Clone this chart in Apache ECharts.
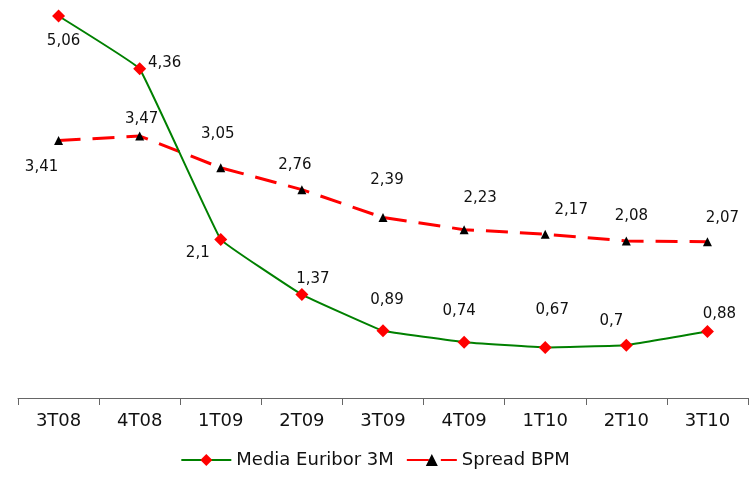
<!DOCTYPE html>
<html><head><meta charset="utf-8">
<script src="https://cdn.jsdelivr.net/npm/echarts@6/dist/echarts.min.js"></script>
<style>html,body{margin:0;padding:0;background:#fff}#c{width:750px;height:480px}</style>
</head><body><div id="c"></div>
<script>
const categories = ['3T08','4T08','1T09','2T09','3T09','4T09','1T10','2T10','3T10'];
const euribor = [5.06, 4.36, 2.1, 1.37, 0.89, 0.74, 0.67, 0.7, 0.88];
const spread = [3.41, 3.47, 3.05, 2.76, 2.39, 2.23, 2.17, 2.08, 2.07];
const seriesNames = ['Media Euribor 3M', 'Spread BPM'];
// label offsets (pixels) relative to each marker, separate from the data
const euriborLabelOffsets = [[5,25],[25,-6],[-23,14],[11,-15],[4,-31],[-5,-31],[7,-37],[-15,-24],[12,-17]];
const spreadLabelOffsets = [[-17,27],[2,-17],[-3,-34],[-7,-25],[4,-37],[16,-32],[26,-24],[5,-25],[15,-24]];

const fmt = v => String(v).replace('.', ',');
const font = 'DejaVu Sans, Verdana, sans-serif';

function withLabels(values, offsets) {
  return values.map((v, i) => ({ value: v, label: { offset: offsets[i] } }));
}

const chart = echarts.init(document.getElementById('c'), null, { renderer: 'canvas' });
chart.setOption({
  animation: false,
  backgroundColor: '#ffffff',
  textStyle: { fontFamily: font },
  grid: { left: 18, right: 2, top: 16, bottom: 82, containLabel: false },
  xAxis: {
    type: 'category',
    data: categories,
    boundaryGap: true,
    axisLine: { show: true, lineStyle: { color: '#666666', width: 1 } },
    axisTick: { show: true, length: 7, lineStyle: { color: '#666666' } },
    axisLabel: { color: '#111111', fontSize: 18, fontFamily: font, margin: 14 },
    splitLine: { show: false }
  },
  yAxis: {
    type: 'value', min: 0, max: 5.06,
    show: false,
    splitLine: { show: false }
  },
  legend: {
    bottom: 6, left: 'center',
    itemWidth: 50, itemHeight: 15, itemGap: 12,
    textStyle: { color: '#111111', fontSize: 18, fontFamily: font },
    data: seriesNames
  },
  series: [
    {
      name: seriesNames[0],
      type: 'line',
      data: withLabels(euribor, euriborLabelOffsets),
      smooth: 0.06,
      z: 3,
      symbol: 'diamond', symbolSize: 13,
      itemStyle: { color: '#ff0000' },
      lineStyle: { color: '#008000', width: 2 },
      label: { show: true, position: 'inside', formatter: p => fmt(p.value),
        color: '#111111', fontSize: 15, fontFamily: font }
    },
    {
      name: seriesNames[1],
      type: 'line',
      data: withLabels(spread, spreadLabelOffsets),
      smooth: false,
      z: 2,
      symbol: 'triangle', symbolSize: 9,
      itemStyle: { color: '#000000' },
      lineStyle: { color: '#ff0000', width: 3, type: [22, 12] },
      label: { show: true, position: 'inside', formatter: p => fmt(p.value),
        color: '#111111', fontSize: 15, fontFamily: font }
    }
  ]
});
</script></body></html>
